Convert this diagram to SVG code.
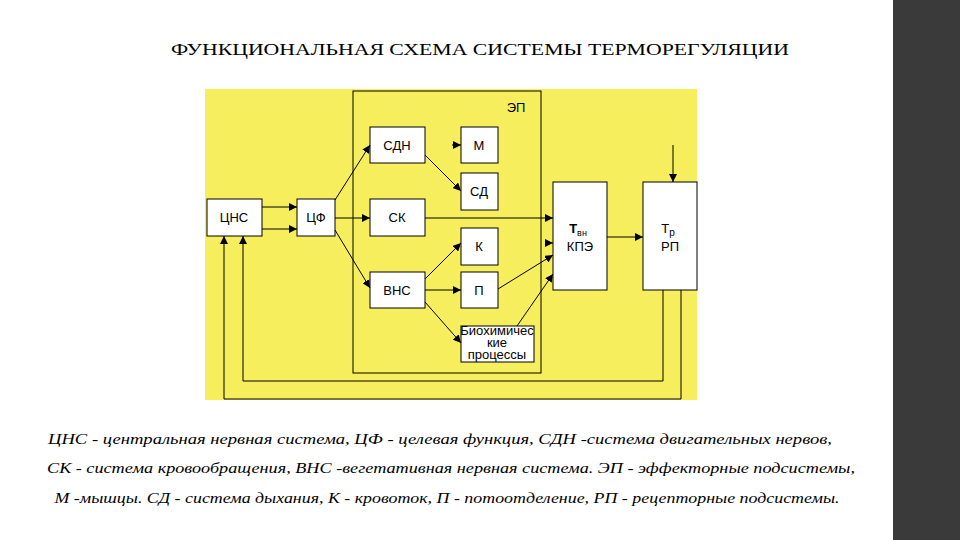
<svg xmlns="http://www.w3.org/2000/svg" width="960" height="540" viewBox="0 0 960 540">
<defs>
<marker id="a" viewBox="0 0 10 10" refX="10" refY="5" markerWidth="8" markerHeight="8" orient="auto" markerUnits="userSpaceOnUse"><path d="M0,0L10,5L0,10z" fill="#000"/></marker>
<style>
.b{fill:#fff;stroke:#000;stroke-width:1}
.t{font-family:"Liberation Sans",Arial,sans-serif;font-size:13px;text-anchor:middle;fill:#000}
.c line,.c polyline{stroke:#000;stroke-width:1;fill:none;marker-end:url(#a)}
.l{font-family:"Liberation Serif",serif;font-style:italic;font-size:15px;text-anchor:middle;fill:#000}
</style>
</defs>
<rect width="960" height="540" fill="#fff"/>
<rect x="893" y="0" width="67" height="540" fill="#3a3a3a"/>
<text x="480" y="55" font-family="Liberation Serif,serif" font-size="16" text-anchor="middle" textLength="618" lengthAdjust="spacingAndGlyphs">ФУНКЦИОНАЛЬНАЯ СХЕМА СИСТЕМЫ ТЕРМОРЕГУЛЯЦИИ</text>
<rect x="205" y="89" width="492" height="311" fill="#f7ee5e"/>
<g id="ep"><rect x="353" y="91" width="188" height="282" fill="none" stroke="#000"/><text class="t" x="516" y="112">ЭП</text></g>
<g id="cns"><rect class="b" x="207" y="199" width="55" height="37"/><text class="t" x="234" y="222">ЦНС</text></g>
<g id="cf"><rect class="b" x="297" y="199" width="38" height="37"/><text class="t" x="316" y="222">ЦФ</text></g>
<g id="sdn"><rect class="b" x="370" y="127" width="55" height="36"/><text class="t" x="397" y="150">СДН</text></g>
<g id="sk"><rect class="b" x="370" y="199" width="55" height="37"/><text class="t" x="397" y="222">СК</text></g>
<g id="vns"><rect class="b" x="370" y="272" width="55" height="36"/><text class="t" x="397" y="295">ВНС</text></g>
<g id="m"><rect class="b" x="461" y="127" width="37" height="36"/><text class="t" x="479" y="150">М</text></g>
<g id="sd"><rect class="b" x="461" y="173" width="37" height="37"/><text class="t" x="479" y="196">СД</text></g>
<g id="k"><rect class="b" x="461" y="228" width="37" height="37"/><text class="t" x="479" y="251">К</text></g>
<g id="p"><rect class="b" x="461" y="272" width="37" height="36"/><text class="t" x="479" y="295">П</text></g>
<g id="bio"><rect class="b" x="461" y="326" width="73" height="36"/><text class="t" x="497" y="335" font-size="8">Биохимичес</text><text class="t" x="497" y="347" font-size="8">кие</text><text class="t" x="497" y="359" font-size="8">процессы</text></g>
<g id="kpe"><rect class="b" x="553" y="182" width="54" height="108"/><text class="t" x="578" y="233" font-size="17" font-weight="bold">T<tspan font-size="9" font-weight="normal" dy="3">вн</tspan></text><text class="t" x="580" y="251" font-size="14">КПЭ</text></g>
<g id="rp"><rect class="b" x="643" y="182" width="54" height="108"/><text class="t" x="668" y="233" font-size="17">T<tspan font-size="10" dy="3">р</tspan></text><text class="t" x="670" y="251" font-size="14">РП</text></g>
<g class="c" id="connectors">
<line x1="262" y1="207" x2="297" y2="207"/>
<line x1="262" y1="229" x2="297" y2="229"/>
<line x1="335" y1="200" x2="370" y2="145"/>
<line x1="335" y1="218" x2="370" y2="218"/>
<line x1="335" y1="230" x2="370" y2="288"/>
<line x1="452" y1="145" x2="461" y2="145"/>
<line x1="425" y1="155" x2="461" y2="191"/>
<line x1="425" y1="218" x2="553" y2="218"/>
<line x1="425" y1="279" x2="461" y2="243"/>
<line x1="425" y1="290" x2="461" y2="290"/>
<line x1="425" y1="302" x2="461" y2="343"/>
<line x1="545" y1="243" x2="553" y2="243"/>
<line x1="498" y1="289" x2="553" y2="255"/>
<line x1="517" y1="326" x2="553" y2="274"/>
<line x1="607" y1="237" x2="643" y2="237"/>
<line x1="673" y1="145" x2="673" y2="182"/>
<polyline points="663,290 663,381 243,381 243,236"/>
<polyline points="681,290 681,399 224,399 224,236"/>
</g>
<text class="l" x="440" y="444" textLength="784" lengthAdjust="spacingAndGlyphs">ЦНС - центральная нервная система, ЦФ - целевая функция, СДН -система двигательных нервов,</text>
<text class="l" x="451" y="473" textLength="808" lengthAdjust="spacingAndGlyphs">СК - система кровообращения, ВНС -вегетативная нервная система. ЭП - эффекторные подсистемы,</text>
<text class="l" x="447" y="503" textLength="785" lengthAdjust="spacingAndGlyphs">М -мышцы. СД - система дыхания, К - кровоток, П - потоотделение, РП - рецепторные подсистемы.</text>
</svg>
